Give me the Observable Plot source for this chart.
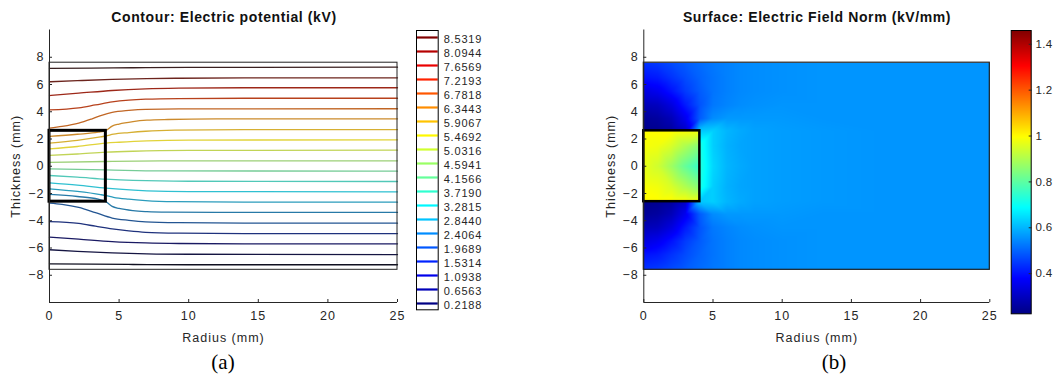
<!DOCTYPE html>
<html><head><meta charset="utf-8">
<script src="https://cdn.jsdelivr.net/npm/d3@7"></script>
<script src="https://cdn.jsdelivr.net/npm/@observablehq/plot@0.6"></script>
<style>
body{margin:0;background:#fff;}
#wrap{position:relative;width:1056px;height:381px;overflow:hidden;background:#fff;font-family:Arial,"Liberation Sans",sans-serif;}
.panel{position:absolute;top:0;}
.title{position:absolute;font-weight:bold;font-size:14px;letter-spacing:0.6px;color:#111;white-space:nowrap;transform:translate(-50%,-50%);}
.cap{position:absolute;font-family:"Times New Roman","Liberation Serif",serif;font-size:21px;color:#000;transform:translate(-50%,-50%);white-space:nowrap;}
</style></head>
<body><div id="wrap"></div>
<script>
// ---------- data ----------
const titleA = "Contour: Electric potential (kV)";
const titleB = "Surface: Electric Field Norm (kV/mm)";
const xLabel = "Radius (mm)";
const yLabel = "Thickness (mm)";
const captions = ["(a)", "(b)"];
const xDomain = [0, 25];
const yDomain = [-10, 10];
const xTicks = [0, 5, 10, 15, 20, 25];
const yTicks = [-8, -6, -4, -2, 0, 2, 4, 6, 8];
const slab = {r: [0, 25], z: [-7.6, 7.6]};
const electrode = {r: [0, 4.05], z: [-2.6, 2.6]};

// contour levels (kV)
const levels = [0.2188, 0.6563, 1.0938, 1.5314, 1.9689, 2.4064, 2.8440, 3.2815, 3.7190, 4.1566,
  4.5941, 5.0316, 5.4692, 5.9067, 6.3443, 6.7818, 7.2193, 7.6569, 8.0944, 8.5319];

// contour lines, one per level: [radius, thickness]
const contourLines = [
  [[0,-7.16],[3,-7.19],[6,-7.21],[10,-7.23],[25,-7.23]],
  [[0,-6.13],[2,-6.25],[4.5,-6.36],[7,-6.43],[10,-6.46],[25,-6.48]],
  [[0,-5.2],[2.1,-5.35],[4.5,-5.53],[6.9,-5.63],[9.3,-5.67],[14,-5.69],[25,-5.69]],
  [[0,-4.06],[2.1,-4.2],[3.3,-4.4],[4.5,-4.6],[5.7,-4.75],[6.9,-4.85],[9.3,-4.91],[14,-4.94],[25,-4.94]],
  [[0,-2.71],[0.9,-2.8],[2.1,-3.02],[3.3,-3.4],[4.5,-3.8],[5.7,-3.97],[6.9,-4.08],[9.3,-4.14],[14,-4.17],[25,-4.18]],
  [[0,-2.07],[2,-2.22],[3.5,-2.42],[4.05,-2.6],[4.5,-2.95],[5,-3.1],[6,-3.26],[7,-3.33],[8.5,-3.37],[12,-3.39],[25,-3.39]],
  [[0,-1.66],[2,-1.85],[3.66,-2.08],[4.05,-2.15],[4.6,-2.28],[5.7,-2.42],[6.9,-2.52],[9,-2.6],[14,-2.64],[25,-2.64]],
  [[0,-1.22],[2,-1.38],[4.05,-1.6],[5,-1.68],[7,-1.8],[10,-1.86],[25,-1.88]],
  [[0,-0.68],[2,-0.8],[4.05,-0.95],[6,-1.04],[10,-1.1],[25,-1.12]],
  [[0,-0.2],[4.05,-0.27],[8,-0.34],[25,-0.36]],
  [[0,0.28],[4.05,0.35],[8,0.39],[25,0.4]],
  [[0,0.8],[2,0.9],[4.05,1.03],[6,1.1],[10,1.16],[25,1.18]],
  [[0,1.28],[2,1.45],[4.05,1.7],[5,1.76],[7,1.86],[10,1.92],[25,1.94]],
  [[0,1.7],[2,1.9],[3.66,2.15],[4.05,2.22],[4.6,2.35],[5.7,2.47],[6.9,2.57],[9,2.65],[14,2.69],[25,2.69]],
  [[0,2.2],[2,2.35],[3.5,2.5],[4.05,2.62],[4.5,2.95],[5,3.1],[6,3.28],[7,3.38],[8.5,3.43],[12,3.47],[25,3.48]],
  [[0,2.8],[0.9,2.92],[2.1,3.16],[3.06,3.48],[3.8,3.76],[4.5,3.95],[5.7,4.1],[6.9,4.18],[9.3,4.21],[25,4.22]],
  [[0,4.14],[2.1,4.29],[3.3,4.5],[4.5,4.72],[5.7,4.85],[6.9,4.92],[9.3,4.97],[14,4.99],[25,4.99]],
  [[0,5.19],[2.1,5.36],[4.5,5.56],[6.9,5.68],[9.3,5.73],[14,5.76],[25,5.76]],
  [[0,6.2],[2,6.28],[4.5,6.37],[7,6.43],[9.3,6.46],[14,6.49],[25,6.49]],
  [[0,7.18],[3,7.2],[6,7.23],[10,7.26],[25,7.27]]
];

// electric field norm (kV/mm) samples outside the electrode
const fieldOutX = [0, 1, 2, 3, 4.05, 5, 6, 7, 8, 10, 13, 17, 25];
const fieldOutY = [7.6, 6.5, 5.5, 4.5, 3.5, 2.6, 1.5, 0, -1.5, -2.6, -3.5, -4.5, -5.5, -6.5, -7.6];
const fieldOut = [
  [0.44, 0.45, 0.47, 0.49, 0.51, 0.525, 0.535, 0.545, 0.55, 0.555, 0.56, 0.56, 0.56],
  [0.40, 0.41, 0.44, 0.47, 0.50, 0.52, 0.535, 0.545, 0.55, 0.555, 0.56, 0.56, 0.56],
  [0.34, 0.36, 0.40, 0.45, 0.49, 0.52, 0.535, 0.545, 0.55, 0.555, 0.56, 0.56, 0.56],
  [0.29, 0.30, 0.34, 0.41, 0.48, 0.525, 0.54, 0.55, 0.555, 0.56, 0.56, 0.56, 0.56],
  [0.25, 0.26, 0.29, 0.36, 0.49, 0.55, 0.565, 0.565, 0.565, 0.565, 0.56, 0.56, 0.56],
  [0.235, 0.24, 0.26, 0.31, 0.62, 0.63, 0.60, 0.585, 0.575, 0.57, 0.565, 0.56, 0.56],
  [0.72, 0.72, 0.72, 0.72, 0.72, 0.63, 0.595, 0.58, 0.575, 0.57, 0.565, 0.56, 0.56],
  [0.73, 0.73, 0.73, 0.73, 0.73, 0.64, 0.60, 0.585, 0.575, 0.57, 0.565, 0.56, 0.56],
  [0.72, 0.72, 0.72, 0.72, 0.72, 0.63, 0.595, 0.58, 0.575, 0.57, 0.565, 0.56, 0.56],
  [0.235, 0.24, 0.26, 0.31, 0.62, 0.63, 0.60, 0.585, 0.575, 0.57, 0.565, 0.56, 0.56],
  [0.25, 0.26, 0.29, 0.36, 0.49, 0.55, 0.565, 0.565, 0.565, 0.565, 0.56, 0.56, 0.56],
  [0.29, 0.30, 0.34, 0.41, 0.48, 0.525, 0.54, 0.55, 0.555, 0.56, 0.56, 0.56, 0.56],
  [0.34, 0.36, 0.40, 0.45, 0.49, 0.52, 0.535, 0.545, 0.55, 0.555, 0.56, 0.56, 0.56],
  [0.40, 0.41, 0.44, 0.47, 0.50, 0.52, 0.535, 0.545, 0.55, 0.555, 0.56, 0.56, 0.56],
  [0.44, 0.45, 0.47, 0.49, 0.51, 0.525, 0.535, 0.545, 0.55, 0.555, 0.56, 0.56, 0.56]
];
// field samples inside the electrode
const fieldInX = [0, 1, 2, 3, 4.05];
const fieldInY = [2.6, 1.5, 0, -1.5, -2.6];
const fieldIn = [
  [1.00, 1.00, 1.00, 0.99, 0.98],
  [0.99, 0.98, 0.95, 0.90, 0.85],
  [0.97, 0.94, 0.88, 0.81, 0.75],
  [0.99, 0.98, 0.95, 0.90, 0.85],
  [1.00, 1.00, 1.00, 0.99, 0.98]
];
const cbDomain = [0.225, 1.46];
const cbTicks = [0.4, 0.6, 0.8, 1, 1.2, 1.4];

// ---------- styles ----------
const jetColors = ["#000084", "#0000ff", "#00ffff", "#ffff00", "#ff0000", "#800000"];
const lineColors = ["#101020", "#1c1c70", "#30c4d4", "#e2d83a", "#b02a18", "#3a2020"];
const jetT = [0, 0.125, 0.375, 0.625, 0.875, 1];
const jetStops = (a, b) => jetT.map(t => a + t * (b - a));
const levelStops = jetStops(levels[0], levels[levels.length - 1]);
const contourColor = {type: "linear", domain: levelStops, range: jetColors, interpolate: "rgb", clamp: true};
const contourLineColor = {type: "linear", domain: levelStops, range: lineColors, interpolate: "rgb", clamp: true};
const fieldColor = {type: "linear", domain: jetStops(cbDomain[0], cbDomain[1]), range: jetColors, interpolate: "rgb", clamp: true};
const baseStyle = {fontFamily: "Arial, 'Liberation Sans', sans-serif", fontSize: "12.5px", letterSpacing: "1px", color: "#262626", background: "transparent", overflow: "visible"};
const axisStroke = "#262626";

// ---------- derived tables ----------
const contourPoints = contourLines.flatMap((pts, i) => pts.map(([x, y]) => ({x, y, level: levels[i]})));
const outPoints = fieldOutY.flatMap((y, j) => fieldOutX.map((x, i) => ({x, y, v: fieldOut[j][i]})));
const inPoints = fieldInY.flatMap((y, j) => fieldInX.map((x, i) => ({x, y, v: fieldIn[j][i]})));
const rectOpts = {x1: d => d.r[0], x2: d => d.r[1], y1: d => d.z[0], y2: d => d.z[1], fill: "none"};

function axes() {
  return [
    Plot.ruleX([xDomain[0]], {stroke: axisStroke}),
    Plot.ruleY([yDomain[0]], {stroke: axisStroke}),
    Plot.axisX(xTicks, {tickSize: -3, tickPadding: 12, stroke: axisStroke, label: xLabel, labelAnchor: "center", labelOffset: 39, labelArrow: "none"}),
    Plot.axisY(yTicks, {tickSize: -3, tickPadding: 8, stroke: axisStroke, label: yLabel, labelAnchor: "center", labelOffset: 38, labelArrow: "none"})
  ];
}

const wrap = document.getElementById("wrap");
function place(node, left) {
  node.classList.add("panel");
  node.style.left = left + "px";
  wrap.appendChild(node);
}
function addText(cls, text, x, y) {
  const d = document.createElement("div");
  d.className = cls; d.textContent = text;
  d.style.left = x + "px"; d.style.top = y + "px";
  wrap.appendChild(d);
}

// ---------- panel (a) ----------
const plotA = Plot.plot({
  width: 410, height: 381,
  marginLeft: 49, marginRight: 13, marginTop: 29.5, marginBottom: 79,
  x: {domain: xDomain}, y: {domain: yDomain},
  color: contourLineColor,
  style: baseStyle,
  marks: [
    Plot.line(contourPoints, {x: "x", y: "y", z: "level", stroke: "level", strokeWidth: 1.3, curve: "monotone-x"}),
    Plot.rect([slab], {...rectOpts, stroke: "#222", strokeWidth: 1}),
    Plot.rect([electrode], {...rectOpts, stroke: "#000", strokeWidth: 3}),
    ...axes()
  ]
});
place(plotA, 0);

// legend of (a)
const legendA = Plot.plot({
  width: 100, height: 381,
  marginLeft: 16, marginRight: 62.3, marginTop: 30, marginBottom: 71.7,
  x: {domain: [0, 1], axis: null},
  y: {type: "point", domain: levels.slice().reverse(), padding: 0, axis: null},
  color: contourColor,
  style: {...baseStyle, fontSize: "11px", letterSpacing: "0.8px"},
  marks: [
    Plot.ruleY(levels, {y: d => d, stroke: d => d, strokeWidth: 2.2}),
    Plot.frame({stroke: "#000", strokeWidth: 1}),
    Plot.axisY(levels, {anchor: "right", tickSize: 0, tickPadding: 5.5, dy: 2, tickFormat: d3.format(".4f"), label: null})
  ]
});
place(legendA, 400);

// ---------- panel (b) ----------
const plotB = Plot.plot({
  width: 440, height: 381,
  marginLeft: 83.3, marginRight: 10.7, marginTop: 29.5, marginBottom: 79,
  x: {domain: xDomain}, y: {domain: yDomain},
  color: fieldColor,
  style: baseStyle,
  marks: [
    Plot.raster(outPoints, {x: "x", y: "y", fill: "v", x1: slab.r[0], x2: slab.r[1], y1: slab.z[0], y2: slab.z[1], interpolate: "barycentric"}),
    Plot.raster(inPoints, {x: "x", y: "y", fill: "v", x1: electrode.r[0], x2: electrode.r[1], y1: electrode.z[0], y2: electrode.z[1], interpolate: "barycentric"}),
    Plot.rect([slab], {...rectOpts, stroke: "#222", strokeWidth: 1.2}),
    Plot.rect([electrode], {...rectOpts, stroke: "#000", strokeWidth: 2.5}),
    ...axes()
  ]
});
place(plotB, 560);

// colorbar of (b)
const cbar = Plot.plot({
  width: 56, height: 381,
  marginLeft: 10.7, marginRight: 25.3, marginTop: 30, marginBottom: 67.7,
  x: {domain: [0, 1], axis: null},
  y: {domain: cbDomain, axis: null},
  color: fieldColor,
  style: {...baseStyle, fontSize: "11.5px", letterSpacing: "0.3px"},
  marks: [
    Plot.raster({fill: (x, y) => y, x1: 0, x2: 1, y1: cbDomain[0], y2: cbDomain[1]}),
    Plot.frame({stroke: "#000", strokeWidth: 1}),
    Plot.axisY(cbTicks, {anchor: "right", tickSize: -3, tickPadding: 7.3, stroke: axisStroke, tickFormat: d => String(d), label: null})
  ]
});
place(cbar, 1000);

// titles & captions
addText("title", titleA, 224, 16.7);
addText("title", titleB, 817, 16.7);
addText("cap", captions[0], 223, 362);
addText("cap", captions[1], 834, 362);
</script>
</body></html>
